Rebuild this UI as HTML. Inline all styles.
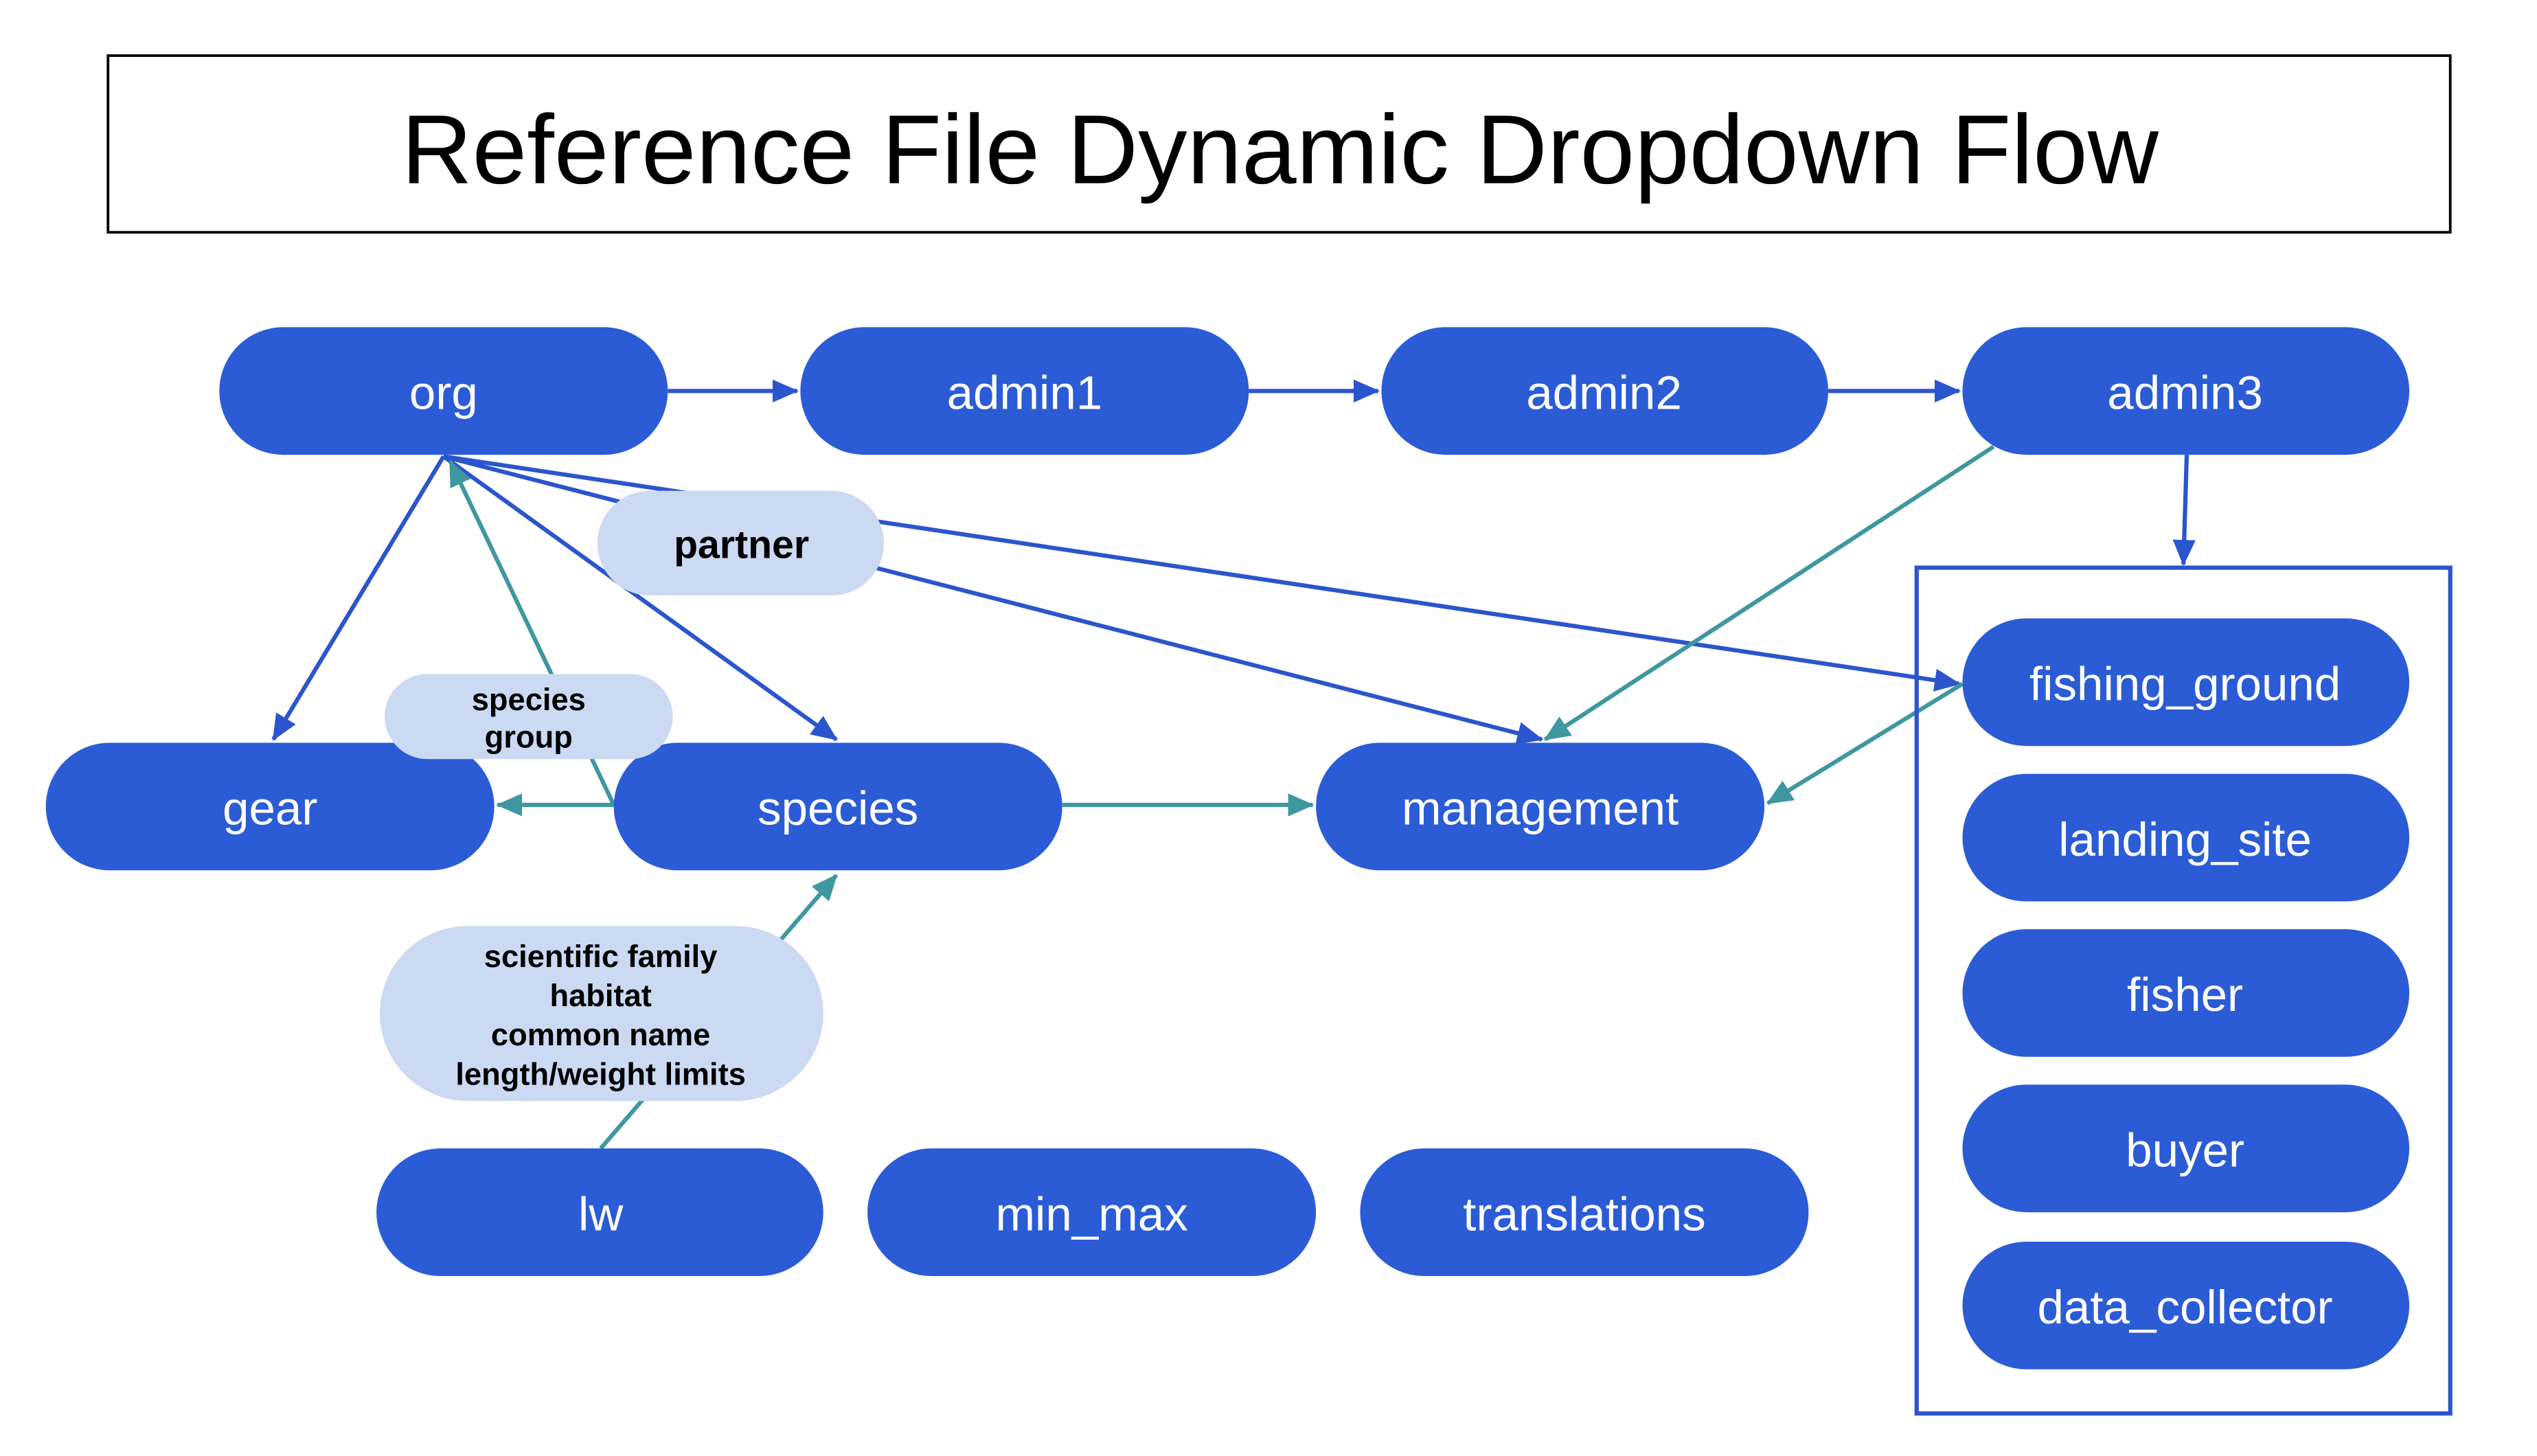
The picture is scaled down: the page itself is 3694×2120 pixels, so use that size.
<!DOCTYPE html>
<html><head><meta charset="utf-8"><style>
html,body{margin:0;padding:0;background:#fff;}
svg{display:block;}
text{font-family:"Liberation Sans",Arial,sans-serif;}
</style></head><body>
<svg width="3694" height="2120" viewBox="0 0 1550 890" preserveAspectRatio="none" xmlns="http://www.w3.org/2000/svg">
<defs>
<marker id="ab" markerWidth="8" markerHeight="8" refX="7" refY="4" orient="auto" markerUnits="userSpaceOnUse" viewBox="0 0 8 8"><path d="M0,0 L8,4 L0,8 z" fill="#2b55cc" transform="scale(1)"/></marker>
<marker id="abB" markerWidth="16" markerHeight="14" refX="15" refY="7" orient="auto" markerUnits="userSpaceOnUse"><path d="M0,0 L16,7 L0,14 z" fill="#2b55cc"/></marker>
<marker id="atB" markerWidth="16" markerHeight="14" refX="15" refY="7" orient="auto" markerUnits="userSpaceOnUse"><path d="M0,0 L16,7 L0,14 z" fill="#3f979f"/></marker>
</defs>
<rect x="66" y="34" width="1431" height="108" fill="#fff" stroke="#000" stroke-width="1.6"/>
<text x="782" y="112" font-size="60" text-anchor="middle" fill="#000">Reference File Dynamic Dropdown Flow</text>

<g stroke="#2b55cc" stroke-width="2.6" fill="none">
<line x1="408" y1="239" x2="487" y2="239" marker-end="url(#abB)"/>
<line x1="763" y1="239" x2="842" y2="239" marker-end="url(#abB)"/>
<line x1="1117" y1="239" x2="1197" y2="239" marker-end="url(#abB)"/>
<line x1="1336" y1="278" x2="1334" y2="345" marker-end="url(#abB)"/>
<line x1="271" y1="279" x2="167" y2="452" marker-end="url(#abB)"/>
<line x1="271" y1="279" x2="511" y2="452" marker-end="url(#abB)"/>
<line x1="271" y1="279" x2="1197" y2="418" marker-end="url(#abB)"/>
<line x1="271" y1="279" x2="942" y2="452" marker-end="url(#abB)"/>
</g>
<g stroke="#3f979f" stroke-width="2.6" fill="none">
<line x1="375" y1="492" x2="275" y2="282" marker-end="url(#atB)"/>
<line x1="375" y1="492" x2="304" y2="492" marker-end="url(#atB)"/>
<line x1="649" y1="492" x2="802" y2="492" marker-end="url(#atB)"/>
<line x1="1218" y1="273" x2="944" y2="452" marker-end="url(#atB)"/>
<line x1="1199" y1="418" x2="1080" y2="491" marker-end="url(#atB)"/>
<line x1="367" y1="702" x2="511" y2="535" marker-end="url(#atB)"/>
</g>

<rect x="1171" y="347" width="326" height="517" fill="none" stroke="#2b55cc" stroke-width="2.6"/>

<g fill="#2b5cd6">
<rect x="134" y="200" width="274" height="78" rx="39"/>
<rect x="489" y="200" width="274" height="78" rx="39"/>
<rect x="844" y="200" width="273" height="78" rx="39"/>
<rect x="1199" y="200" width="273" height="78" rx="39"/>
<rect x="28" y="454" width="274" height="78" rx="39"/>
<rect x="375" y="454" width="274" height="78" rx="39"/>
<rect x="804" y="454" width="274" height="78" rx="39"/>
<rect x="230" y="702" width="273" height="78" rx="39"/>
<rect x="530" y="702" width="274" height="78" rx="39"/>
<rect x="831" y="702" width="274" height="78" rx="39"/>
<rect x="1199" y="378" width="273" height="78" rx="39"/>
<rect x="1199" y="473" width="273" height="78" rx="39"/>
<rect x="1199" y="568" width="273" height="78" rx="39"/>
<rect x="1199" y="663" width="273" height="78" rx="39"/>
<rect x="1199" y="759" width="273" height="78" rx="39"/>
</g>
<g fill="#fff" font-size="29" text-anchor="middle">
<text x="271" y="250">org</text>
<text x="626" y="250">admin1</text>
<text x="980" y="250">admin2</text>
<text x="1335" y="250">admin3</text>
<text x="165" y="504">gear</text>
<text x="512" y="504">species</text>
<text x="941" y="504">management</text>
<text x="367" y="752">lw</text>
<text x="667" y="752">min_max</text>
<text x="968" y="752">translations</text>
<text x="1335" y="428">fishing_ground</text>
<text x="1335" y="523">landing_site</text>
<text x="1335" y="618">fisher</text>
<text x="1335" y="713">buyer</text>
<text x="1335" y="809">data_collector</text>
</g>

<g fill="#cbd9f3">
<rect x="365" y="300" width="175" height="64" rx="32"/>
<rect x="235" y="412" width="176" height="52" rx="26"/>
<rect x="232" y="566" width="271" height="107" rx="54"/>
</g>
<g fill="#000" font-weight="bold" text-anchor="middle">
<text x="453" y="341" font-size="24">partner</text>
<text x="323" y="434" font-size="19">species</text>
<text x="323" y="457" font-size="19">group</text>
<text x="367" y="591" font-size="19">scientific family</text>
<text x="367" y="615" font-size="19">habitat</text>
<text x="367" y="639" font-size="19">common name</text>
<text x="367" y="663" font-size="19">length/weight  limits</text>
</g>
</svg>
</body></html>
